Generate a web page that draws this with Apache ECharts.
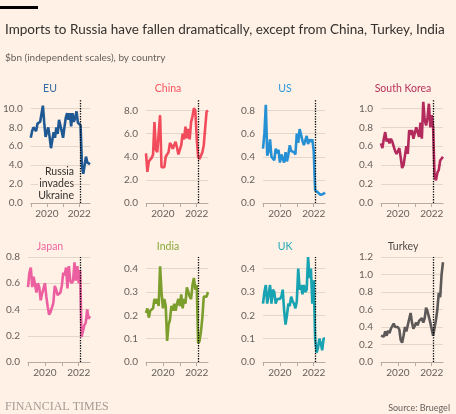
<!DOCTYPE html>
<html>
<head>
<meta charset="utf-8">
<script src="https://cdn.jsdelivr.net/npm/echarts@6/dist/echarts.min.js"></script>
<style>
html,body{margin:0;padding:0;background:#fff1e5;}
#main{width:456px;height:414px;}
</style>
</head>
<body>
<div id="main"></div>
<script>
// monthly categories, Jan 2019 - Sep 2022
var months = [];
for (var y = 2019; y <= 2022; y++) {
	for (var m = 1; m <= 12; m++) {
		if (y == 2022 && m > 9) break;
		months.push(y + '-' + (m < 10 ? '0' : '') + m);
	}
}
var tickYears = ['2019', '2020', '2021', '2022'];
var labelYears = ['2020', '2022'];
var invasion = '2022-02';

var names = ['EU', 'China', 'US', 'South Korea', 'Japan', 'India', 'UK', 'Turkey'];

var eu = [6.9,7.6,8.0,8.1,7.6,8.4,8.2,8.6,8.4,10.3,8.5,7.0,6.9,8.0,7.0,5.8,6.0,7.5,6.9,8.0,7.3,8.8,8.6,7.6,6.9,8.0,9.0,9.5,8.8,9.5,8.1,9.5,8.6,9.0,9.7,8.5,8.3,8.2,3.9,3.1,4.0,4.9,4.3,4.1,4.1];
var china = [4.3,2.7,3.6,3.7,3.9,4.2,7.0,4.6,4.4,4.5,7.6,3.1,3.0,3.1,4.0,3.9,4.4,5.2,5.0,4.7,4.8,5.3,4.8,4.2,4.6,5.0,6.0,5.5,6.6,5.6,6.4,5.5,7.0,7.5,8.2,8.0,5.6,4.0,3.8,3.9,4.4,5.0,6.5,7.9,8.0];
var us = [0.47,0.60,0.85,0.41,0.45,0.55,0.40,0.41,0.37,0.47,0.43,0.46,0.35,0.42,0.43,0.35,0.44,0.36,0.42,0.50,0.45,0.44,0.44,0.42,0.60,0.52,0.64,0.59,0.54,0.50,0.51,0.58,0.51,0.55,0.53,0.55,0.45,0.11,0.10,0.09,0.08,0.07,0.08,0.08,0.09];
var southKorea = [0.63,0.58,0.68,0.75,0.65,0.68,0.63,0.68,0.65,0.60,0.55,0.52,0.55,0.58,0.48,0.37,0.40,0.50,0.60,0.52,0.77,0.72,0.77,0.68,0.67,0.80,0.80,0.70,0.85,0.68,1.07,0.88,0.82,0.90,1.05,0.80,0.93,0.80,0.28,0.24,0.32,0.35,0.45,0.45,0.49];
var japan = [0.57,0.68,0.72,0.57,0.65,0.64,0.53,0.60,0.57,0.47,0.52,0.52,0.60,0.50,0.42,0.36,0.38,0.39,0.45,0.58,0.55,0.51,0.52,0.53,0.58,0.68,0.66,0.72,0.56,0.73,0.62,0.60,0.62,0.76,0.62,0.73,0.60,0.70,0.19,0.19,0.28,0.30,0.40,0.33,0.35];
var india = [0.21,0.23,0.19,0.22,0.22,0.23,0.27,0.25,0.27,0.24,0.41,0.30,0.23,0.27,0.24,0.09,0.16,0.18,0.24,0.22,0.25,0.22,0.25,0.27,0.24,0.29,0.23,0.27,0.25,0.32,0.30,0.28,0.27,0.33,0.36,0.31,0.33,0.08,0.09,0.13,0.19,0.28,0.28,0.28,0.30];
var uk = [0.25,0.30,0.33,0.25,0.25,0.33,0.25,0.31,0.30,0.25,0.27,0.27,0.27,0.28,0.31,0.22,0.16,0.20,0.25,0.24,0.28,0.26,0.25,0.23,0.26,0.40,0.31,0.33,0.29,0.33,0.30,0.31,0.45,0.36,0.40,0.25,0.35,0.10,0.04,0.06,0.10,0.08,0.05,0.10,0.10];
var turkey = [0.30,0.32,0.29,0.35,0.30,0.36,0.33,0.38,0.40,0.44,0.40,0.38,0.40,0.37,0.25,0.22,0.30,0.40,0.35,0.42,0.40,0.56,0.45,0.38,0.36,0.45,0.42,0.47,0.45,0.50,0.45,0.50,0.62,0.58,0.58,0.45,0.47,0.30,0.28,0.48,0.60,0.79,0.74,1.00,1.14];

var seriesData = [eu, china, us, southKorea, japan, india, uk, turkey];
var yMax = [11, 9, 0.9, 1.1, 0.8, 0.45, 0.45, 1.2];
var yStep = [2, 2, 0.2, 0.2, 0.2, 0.1, 0.1, 0.2];
var colors = ['#1f5994', '#f24b5b', '#2690d4', '#b32a5d', '#ec5fa0', '#7b9e2c', '#17a3b2', '#5c5958'];
var titleColors = ['#356ba3', '#f5525f', '#2f97d8', '#b8325f', '#ee66a2', '#86a83a', '#22a9b6', '#4f4a47'];

var font = 'Lato';
var lefts = [28, 146, 263, 381];
var tops = [99, 257];
var heights = [104, 105];

var grids = [], xAxes = [], yAxes = [], series = [];
var graphics = [
	{type: 'rect', left: 0, top: 6, shape: {width: 38, height: 3}, style: {fill: '#000'}}
];

var titles = [
	{
		text: 'Imports to Russia have fallen dramatically, except from China, Turkey, India',
		left: 0, top: 18,
		textStyle: {fontFamily: font, fontSize: 13.5, fontWeight: 'normal', color: '#33302e'}
	},
	{
		text: '$bn (independent scales), by country',
		left: 0, top: 48,
		textStyle: {fontFamily: font, fontSize: 10, fontWeight: 'normal', color: '#66605c'}
	},
	{
		text: 'FINANCIAL TIMES',
		left: 0, top: 396,
		textStyle: {fontFamily: 'Liberation Serif', fontSize: 12, fontWeight: 'normal', color: '#a39c95'}
	},
	{
		text: 'Source: Bruegel',
		right: 1, top: 399,
		textStyle: {fontFamily: font, fontSize: 9, fontWeight: 'normal', color: '#66605c'}
	}
];

for (var i = 0; i < 8; i++) {
	var row = i < 4 ? 0 : 1;
	var col = i % 4;
	grids.push({left: lefts[col], top: tops[row], width: 62, height: heights[row]});
	// panel name
	graphics.push({
		type: 'text', x: lefts[col] + 22, y: tops[row] - 10,
		style: {
			text: names[i], align: 'center', verticalAlign: 'middle',
			font: '10.5px Lato', fill: titleColors[i]
		}
	});
	xAxes.push({
		type: 'category', gridIndex: i, data: months, boundaryGap: false,
		axisLine: {lineStyle: {color: '#b3aba4', width: 1}},
		axisTick: {
			length: 4, lineStyle: {color: '#b3aba4'},
			interval: function(idx, val) { return val.slice(5) == '01' && tickYears.indexOf(val.slice(0, 4)) >= 0; }
		},
		axisLabel: {
			interval: function(idx, val) { return val.slice(5) == '01' && labelYears.indexOf(val.slice(0, 4)) >= 0; },
			formatter: function(val) { return val.slice(0, 4); },
			fontFamily: font, fontSize: 10, color: '#66605c', margin: 6
		},
		splitLine: {show: false}
	});
	var topLine = (Math.round(yMax[i] / yStep[i] * 1000) / 1000) % 1 == 0;
	yAxes.push({
		type: 'value', gridIndex: i, min: 0, max: yMax[i], interval: yStep[i],
		axisLine: {show: false}, axisTick: {show: false},
		axisLabel: {
			showMaxLabel: topLine,
			formatter: function(v) { return v.toFixed(1); },
			fontFamily: font, fontSize: 10, color: '#66605c', margin: 8
		},
		splitLine: {showMaxLine: topLine, lineStyle: {color: '#e3d7cc', width: 1}}
	});
	series.push({
		type: 'line', xAxisIndex: i, yAxisIndex: i, data: seriesData[i],
		symbol: 'none', clip: false, z: 3,
		lineStyle: {color: colors[i], width: 2.6},
		markLine: {
			silent: true, symbol: 'none', label: {show: false},
			lineStyle: {color: '#000', type: 'dotted', width: 1.3},
			data: [{xAxis: invasion}]
		}
	});
}

// annotation on the EU panel
graphics.push({
	type: 'text', x: 74, y: 166, z: 1,
	style: {
		text: 'Russia\ninvades\nUkraine', align: 'right', lineHeight: 12,
		font: '10.5px Lato', fill: '#33302e', backgroundColor: '#fff1e5'
	}
});

var myChart = echarts.init(document.getElementById('main'));
option = {
	backgroundColor: '#fff1e5',
	animation: false,
	title: titles,
	grid: grids,
	xAxis: xAxes,
	yAxis: yAxes,
	series: series,
	graphic: graphics
};
myChart.setOption(option);
</script>
</body>
</html>
